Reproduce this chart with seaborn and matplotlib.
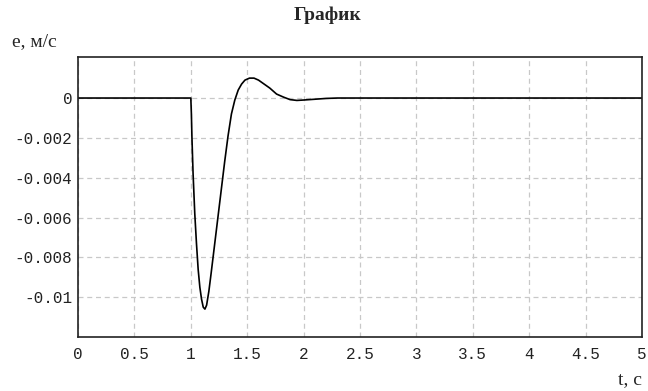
import numpy as np
import pandas as pd
import matplotlib
matplotlib.use("Agg")
import matplotlib.pyplot as plt
import seaborn as sns

# Данные
t = [0.0, 0.5, 1.0, 1.005, 1.01, 1.02, 1.035, 1.05, 1.065, 1.08, 1.095, 1.11, 1.125,
     1.14, 1.16, 1.18, 1.21, 1.24, 1.27, 1.30, 1.33, 1.36, 1.39, 1.42, 1.45, 1.48,
     1.52, 1.56, 1.60, 1.65, 1.70, 1.76, 1.82, 1.88, 1.94, 2.0, 2.1, 2.2, 2.3, 3.0, 4.0, 5.0]
e = [0.0, 0.0, 0.0, -0.0008, -0.0020, -0.0038, -0.0058, -0.0073, -0.0086, -0.0095, -0.0101, -0.0105, -0.0106,
     -0.0104, -0.0097, -0.0088, -0.0074, -0.0060, -0.0046, -0.0032, -0.0019, -0.0008, -0.0001, 0.0004, 0.0007, 0.0009,
     0.0010, 0.0010, 0.0009, 0.0007, 0.0005, 0.0002, 0.00005, -0.00008, -0.00012, -0.0001, -0.00006, -0.00002, 0.0, 0.0, 0.0, 0.0]

x_ticks = [0, 0.5, 1, 1.5, 2, 2.5, 3, 3.5, 4, 4.5, 5]
x_labels = ["0", "0.5", "1", "1.5", "2", "2.5", "3", "3.5", "4", "4.5", "5"]
y_ticks = [0, -0.002, -0.004, -0.006, -0.008, -0.01]
y_labels = ["0", "-0.002", "-0.004", "-0.006", "-0.008", "-0.01"]

df = pd.DataFrame({"t": t, "e": e})

sns.set_style("white")

fig = plt.figure(figsize=(6.48, 3.91), dpi=100)
ax = fig.add_axes([0.1204, 0.1381, 0.8704, 0.7161])

sns.lineplot(data=df, x="t", y="e", ax=ax, color="black", linewidth=1.2)

ax.set_xlim(0, 5)
ax.set_ylim(-0.012, 0.00206)
ax.set_xticks(x_ticks)
ax.set_xticklabels(x_labels)
ax.set_yticks(y_ticks)
ax.set_yticklabels(y_labels)

ax.grid(True, color="#c8c8c8", linestyle=(0, (4, 3)), linewidth=0.9)
ax.tick_params(length=0, labelsize=11.5, labelcolor="#222222")
ax.tick_params(axis="x", pad=7)
ax.tick_params(axis="y", pad=4)
for lbl in ax.get_xticklabels() + ax.get_yticklabels():
    lbl.set_family("Liberation Mono")
for s in ax.spines.values():
    s.set_color("#222222")
    s.set_linewidth(1.2)

ax.set_xlabel("")
ax.set_ylabel("")

fig.text(0.506, 0.962, "График", ha="center", va="center", fontsize=14,
         fontweight="bold", family="Liberation Serif")
fig.text(0.018, 0.893, "e, м/с", ha="left", va="center", fontsize=14,
         family="Liberation Serif")
fig.text(0.991, 0.028, "t, c", ha="right", va="center", fontsize=14,
         family="Liberation Serif")

plt.savefig("out.png", dpi=100)
